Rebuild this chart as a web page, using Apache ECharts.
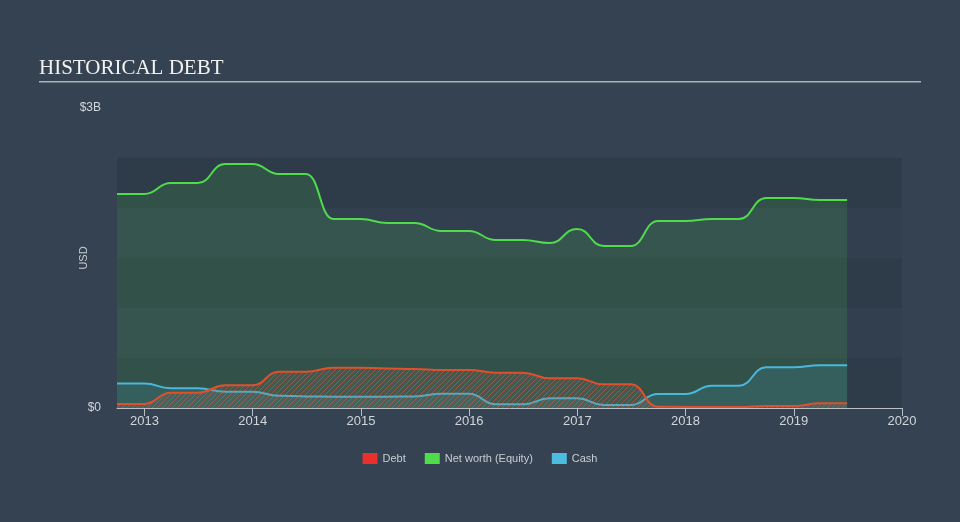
<!DOCTYPE html>
<html>
<head>
<meta charset="utf-8">
<script src="https://cdn.jsdelivr.net/npm/echarts@6/dist/echarts.min.js"></script>
<style>
html,body{margin:0;padding:0;background:#344252;}
#chart{width:960px;height:522px;}
</style>
</head>
<body>
<div id="chart"></div>
<script>
// ---- data ----
const quarters = ['2012-09-30','2012-12-31','2013-03-31','2013-06-30','2013-09-30','2013-12-31',
  '2014-03-31','2014-06-30','2014-09-30','2014-12-31','2015-03-31','2015-06-30','2015-09-30','2015-12-31',
  '2016-03-31','2016-06-30','2016-09-30','2016-12-31','2017-03-31','2017-06-30','2017-09-30','2017-12-31',
  '2018-03-31','2018-06-30','2018-09-30','2018-12-31','2019-03-31','2019-06-30'];
const debt = [0.04,0.04,0.153,0.153,0.227,0.227,0.363,0.363,0.403,0.403,0.395,0.39,0.38,0.38,
  0.353,0.353,0.297,0.297,0.237,0.237,0.013,0.01,0.01,0.01,0.02,0.02,0.047,0.047];
const equity = [2.14,2.14,2.25,2.25,2.44,2.44,2.34,2.34,1.89,1.89,1.85,1.85,1.77,1.77,
  1.68,1.68,1.65,1.79,1.62,1.62,1.87,1.87,1.89,1.89,2.10,2.10,2.08,2.08];
const cash = [0.245,0.245,0.197,0.197,0.163,0.163,0.123,0.115,0.113,0.113,0.113,0.115,0.143,0.143,
  0.037,0.037,0.097,0.097,0.03,0.03,0.14,0.14,0.223,0.223,0.407,0.407,0.427,0.427];
const yearTicks = [2013,2014,2015,2016,2017,2018,2019,2020];
const yLabelValues = [0,3];
const yLabelTexts = {0:'$0',3:'$3B'};
const seriesNames = ['Debt','Net worth (Equity)','Cash'];

function toYear(s){
  const d = new Date(s+'T00:00:00Z');
  const y = d.getUTCFullYear();
  const a = Date.UTC(y,0,1), b = Date.UTC(y+1,0,1);
  return y + (d.getTime()-a)/(b-a);
}
function pairs(vals){ return quarters.map((q,i)=>[toYear(q), vals[i]]); }

// hatch pattern for debt
const pc = document.createElement('canvas');
pc.width = 5; pc.height = 5;
const pctx = pc.getContext('2d');
pctx.fillStyle = 'rgba(140,120,105,0.30)';
pctx.fillRect(0,0,5,5);
pctx.strokeStyle = 'rgba(225,95,60,0.75)';
pctx.lineWidth = 1;
pctx.beginPath();
pctx.moveTo(0,5); pctx.lineTo(5,0);
pctx.moveTo(-1,1); pctx.lineTo(1,-1);
pctx.moveTo(4,6); pctx.lineTo(6,4);
pctx.stroke();

const font = 'Liberation Sans, Arial, sans-serif';
const chart = echarts.init(document.getElementById('chart'), null, {renderer:'canvas'});
chart.setOption({
  animation:false,
  backgroundColor:'#344252',
  graphic:[
    {type:'text', left:39, top:58, style:{text:'HISTORICAL DEBT', fill:'#f2f2f2', font:'21px "Liberation Serif", "Times New Roman", serif'}},
    {type:'rect', shape:{x:39, y:81, width:882, height:1.5}, style:{fill:'#aab1b8'}},
    {type:'text', x:84, y:258, rotation:Math.PI/2, style:{text:'USD', fill:'#c8cdd2', font:'11px Liberation Sans, Arial, sans-serif', align:'center', verticalAlign:'middle'}}
  ],
  legend:{
    data:seriesNames, top:448, left:'center', icon:'rect', itemWidth:15, itemHeight:11, itemGap:19,
    textStyle:{color:'#c8cdd2', fontSize:11, fontFamily:font}
  },
  grid:{left:117, right:58, top:108, bottom:114},
  xAxis:{
    type:'value', min:toYear(quarters[0]), max:2020,
    axisLine:{lineStyle:{color:'#b8bfc6', width:1}},
    axisTick:{show:true, length:8, customValues:yearTicks, lineStyle:{color:'#b8bfc6'}},
    axisLabel:{customValues:yearTicks, color:'#d0d5da', fontSize:13, fontFamily:font, margin:7, formatter:v=>String(Math.round(v))},
    splitLine:{show:false}
  },
  yAxis:{
    type:'value', min:0, max:3, interval:0.5,
    axisLine:{show:false}, axisTick:{show:false},
    axisLabel:{customValues:yLabelValues, color:'#d0d5da', fontSize:12, fontFamily:font, margin:16, formatter:v=>yLabelTexts[Math.round(v)]||''},
    splitLine:{show:false},
    splitArea:{show:true, areaStyle:{color:['rgba(0,0,0,0.1)','rgba(0,0,0,0.03)','rgba(0,0,0,0.1)','rgba(0,0,0,0.03)','rgba(0,0,0,0.1)','rgba(0,0,0,0)']}}
  },
  series:[
    {name:'Net worth (Equity)', type:'line', data:pairs(equity), smooth:0.5, smoothMonotone:'x', symbol:'none',
     itemStyle:{color:'#4fdc4b'}, lineStyle:{color:'#4fdc4b', width:2}, areaStyle:{color:'rgba(80,220,75,0.2)'}, z:2},
    {name:'Cash', type:'line', data:pairs(cash), smooth:0.5, smoothMonotone:'x', symbol:'none',
     itemStyle:{color:'#4cbde0'}, lineStyle:{color:'#4ab8dc', width:2}, areaStyle:{color:'rgba(72,184,220,0.2)'}, z:3},
    {name:'Debt', type:'line', data:pairs(debt), smooth:0.5, smoothMonotone:'x', symbol:'none',
     itemStyle:{color:'#e8302c'}, lineStyle:{color:'#e0502c', width:2}, areaStyle:{color:{image:pc, repeat:'repeat'}}, z:4}
  ]
});
</script>
</body>
</html>
